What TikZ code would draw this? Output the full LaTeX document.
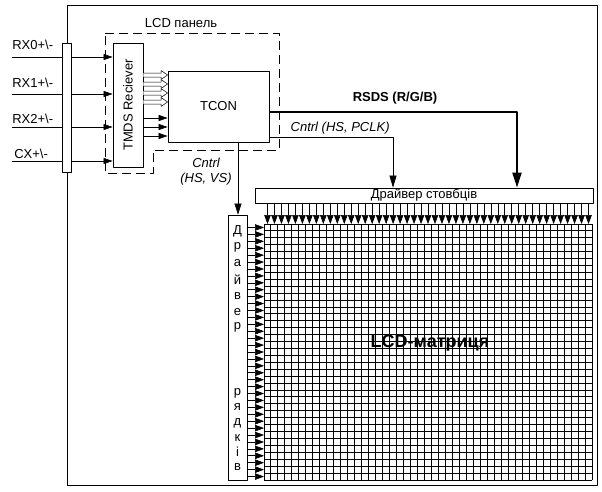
\documentclass[tikz,border=0pt]{standalone}
\usepackage{fontspec}
\setmainfont{Liberation Sans}
\usetikzlibrary{arrows.meta}
\begin{document}
\begin{tikzpicture}[x=1pt,y=-1pt,font=\fontsize{13}{15}\selectfont,line join=round,
 >={Triangle[length=9pt,width=6pt]},line width=0.6pt,
 blk/.style={draw,line width=0.8pt,fill=white,inner sep=0pt},
 bold/.style={font=\fontsize{13}{15}\selectfont\bfseries},
 ital/.style={font=\fontsize{13}{15}\selectfont\itshape},
 tip/.style={-{Triangle[length=9pt,width=6.5pt]},line width=0.6pt}]
 \useasboundingbox (0,0) rectangle (602,491);
 \def\gx{264}\def\gy{224}\def\dx{6.979}\def\dy{6.919}
 % frame and input bus
 \draw[line width=1pt] (67,5) rectangle (597,485);
 \node[blk,minimum width=9pt,minimum height=129pt] (bus) at (66.5,107.5) {};
 \node[blk,minimum width=30pt,minimum height=124pt] (tmds) at (128,105) {};
 \node[rotate=90] at (tmds) {TMDS Reciever};
 \node[blk,minimum width=101pt,minimum height=71pt] (tcon) at (218.5,106.5) {TCON};
 \draw[dash pattern=on 9pt off 5pt,line width=0.8pt] (105,33) -- (279,33) -- (279,150)
   -- (153,150) -- (153,173) -- (105,173) -- cycle;
 \node at (181,23) {LCD панель};
 % inputs
 \foreach \t/\y/\b/\lx [count=\i] in {RX0/57/49/12,RX1/94/87/12,RX2/127/123/12,CX/161/158/14}{
  \coordinate (in\i) at (12,\y);
  \node[anchor=base west,inner sep=0pt] at (\lx,\b) {\t+\textbackslash-};
  \draw (in\i) -- (in\i -| bus.west);
  \draw[->] (in\i -| bus.east) -- (in\i -| tmds.west);
 }
 % TMDS -> TCON
 \foreach \y in {75,84,93,102}
  \draw[line width=0.5pt,fill=white] (tmds.east |- 0,\y-2) -- (161,\y-2) -- (161,\y-4.5)
    -- (tcon.west |- 0,\y) -- (161,\y+4.5) -- (161,\y+2) -- (tmds.east |- 0,\y+2);
 \foreach \y in {118,127,136}
  \draw[->] (tmds.east |- 0,\y) -- (tcon.west |- 0,\y);
 % drivers
 \node[blk,minimum width=338pt,minimum height=15pt] (coldrv) at (424,195.5) {Драйвер стовбців};
 \node[blk,minimum width=19pt,minimum height=265pt] (rowdrv) at (237.5,347.5) {};
 \foreach \l/\y in {Д/231,р/247,а/263,й/280,в/296,е/312,р/327,р/393,я/407,д/423,к/438,і/452,в/467}
  \node at (rowdrv.center |- 0,\y) {\l};
 % TCON outputs
 \draw[line width=2pt,-{Triangle[length=15pt,width=9pt]}] (tcon.east |- 0,112) -| (coldrv.north -| 517,0);
 \node[bold] at (395,98) {RSDS (R/G/B)};
 \draw[-{Triangle[length=12pt,width=7pt]}] (tcon.east |- 0,137) -| (coldrv.north -| 393,0);
 \node[ital,anchor=base west] at (287,131) {Cntrl (HS, PCLK)};
 \draw[-{Triangle[length=11pt,width=7pt]}] (tcon.south -| 238,0) -- (rowdrv.north -| 238,0);
 \node[ital,align=center] at (206,171.5) {Cntrl\\(HS, VS)};
 % matrix
 \foreach \i in {0,...,47}
  \draw[line width=1pt] (\gx+\i*\dx,\gy) -- (\gx+\i*\dx,\gy+37*\dy);
 \foreach \j in {0,...,37}
  \draw[line width=1pt] (\gx,\gy+\j*\dy) -- (\gx+47*\dx,\gy+\j*\dy);
 \foreach \i [evaluate=\i as \cx using \gx+(\i+0.5)*\dx] in {0,...,46}
  \draw[tip] (coldrv.south -| \cx,0) -- (\cx,\gy);
 \foreach \j [evaluate=\j as \cy using \gy+(\j+0.5)*\dy] in {0,...,36}
  \draw[tip] (rowdrv.east |- 0,\cy) -- (\gx,\cy);
 \node[font=\fontsize{18}{20}\selectfont\bfseries] at (430,343) {LCD-матриця};
\end{tikzpicture}
\end{document}
